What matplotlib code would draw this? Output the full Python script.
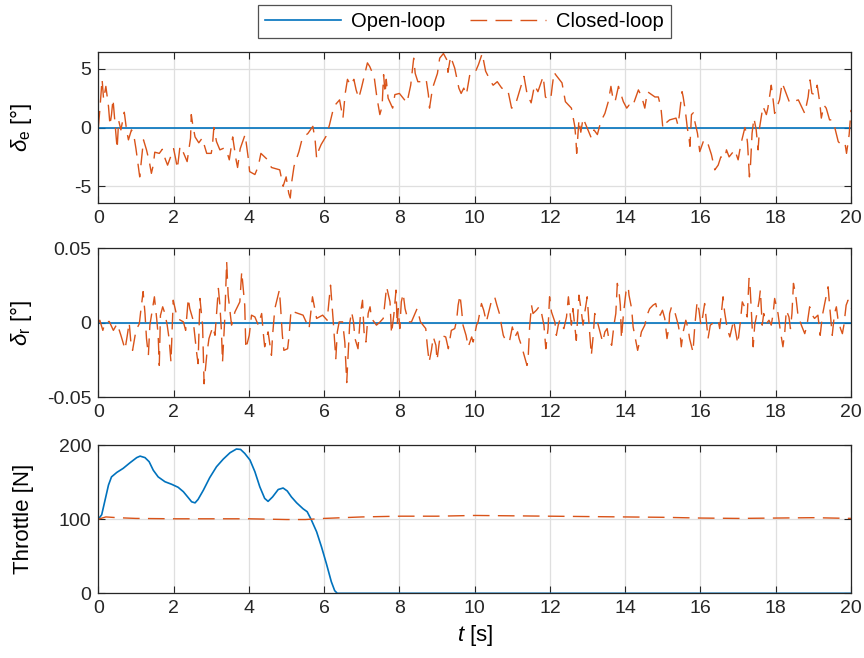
import numpy as np
import matplotlib.pyplot as plt

plt.rcParams['font.family'] = ['Liberation Sans', 'DejaVu Sans']
plt.rcParams['mathtext.fontset'] = 'custom'
plt.rcParams['mathtext.it'] = 'Liberation Sans:italic'
plt.rcParams['mathtext.rm'] = 'Liberation Sans'
plt.rcParams['axes.unicode_minus'] = False

BLUE = '#0072BD'
ORANGE = '#D95319'

# open-loop (zero deflections)
t_ol = [0, 20]
de_ol = [0, 0]
dr_ol = [0, 0]

# closed-loop elevator deflection [deg]
t_de = [0.0, 0.04, 0.1, 0.14, 0.2, 0.27, 0.31, 0.35, 0.39, 0.43, 0.46, 0.5, 0.54, 0.6, 0.69, 0.75, 0.8, 0.88, 0.94,
        1.0, 1.1, 1.15, 1.2, 1.28, 1.36, 1.41, 1.46, 1.5, 1.62, 1.7, 1.78, 1.84, 2.0, 2.06, 2.1, 2.17, 2.23, 2.36,
        2.45, 2.47, 2.51, 2.57, 2.67, 2.76, 2.88, 3.0, 3.03, 3.07, 3.14, 3.23, 3.34, 3.43, 3.48, 3.57, 3.62, 3.66,
        3.7, 3.77, 3.9, 3.95, 3.99, 4.02, 4.16, 4.25, 4.32, 4.5, 4.6, 4.82, 4.91, 4.99, 5.06, 5.1, 5.14, 5.2, 5.24,
        5.33, 5.42, 5.57, 5.7, 5.76, 5.8, 5.86, 5.92, 6.05, 6.14, 6.26, 6.41, 6.5, 6.56, 6.62, 6.7, 6.79, 6.85, 6.92,
        6.99, 7.15, 7.21, 7.33, 7.4, 7.48, 7.54, 7.58, 7.62, 7.65, 7.7, 7.82, 7.88, 8.0, 8.2, 8.3, 8.38, 8.42, 8.49,
        8.62, 8.71, 8.77, 8.8, 8.88, 9.01, 9.07, 9.17, 9.27, 9.29, 9.36, 9.47, 9.58, 9.64, 9.71, 9.78, 9.87, 10.0,
        10.1, 10.2, 10.29, 10.43, 10.49, 10.6, 10.72, 10.88, 10.98, 11.07, 11.2, 11.31, 11.39, 11.5, 11.59, 11.68,
        11.82, 11.88, 11.95, 12.02, 12.06, 12.11, 12.15, 12.32, 12.41, 12.57, 12.66, 12.69, 12.71, 12.77, 12.82,
        12.88, 12.97, 13.1, 13.17, 13.26, 13.35, 13.46, 13.55, 13.62, 13.68, 13.73, 13.82, 13.95, 14.04, 14.1,
        14.19, 14.35, 14.44, 14.52, 14.59, 14.79, 14.88, 14.95, 15.0, 15.05, 15.18, 15.35, 15.4, 15.44, 15.48,
        15.51, 15.54, 15.6, 15.65, 15.69, 15.72, 15.76, 15.81, 15.85, 15.92, 15.98, 16.09, 16.18, 16.29, 16.38,
        16.47, 16.54, 16.65, 16.69, 16.76, 16.91, 17.0, 17.04, 17.1, 17.18, 17.22, 17.25, 17.3, 17.33, 17.37,
        17.42, 17.48, 17.53, 17.57, 17.66, 17.75, 17.79, 17.88, 17.93, 17.97, 18.1, 18.17, 18.24, 18.37, 18.5,
        18.6, 18.77, 18.86, 18.91, 18.96, 19.04, 19.1, 19.17, 19.21, 19.28, 19.34, 19.43, 19.48, 19.56, 19.66,
        19.75, 19.84, 19.88, 19.95, 20.0]
de_cl = [0.0, 1.5, 4.1, 2.4, 3.5, 1.8, 0.2, 1.1, 2.4, 0.9, -0.2, -1.8, 0.6, -0.2, 1.3, -0.2, -1.05, -0.2, -0.6,
         -1.8, -4.2, -2.6, -1.05, -1.9, -3.0, -3.9, -3.2, -2.1, -2.2, -1.85, -2.7, -3.2, -1.8, -2.75, -3.5, -1.6,
         -1.9, -2.9, -0.9, 1.1, 0.2, -0.8, -1.3, -0.9, -2.2, -2.2, -1.6, 0.0, -1.2, -1.9, -1.75, -2.2, -2.75, -0.8,
         -1.9, -2.75, -3.4, -1.8, -0.6, -1.8, -2.75, -3.75, -4.0, -3.3, -2.2, -2.75, -3.4, -3.6, -5.0, -4.2, -5.6,
         -6.0, -4.6, -3.3, -2.9, -2.05, -0.9, -0.5, 0.1, -1.05, -2.6, -1.9, -1.45, -0.75, 0.2, 1.8, 2.35, 0.8, 2.9,
         4.1, 3.6, 4.1, 3.2, 2.5, 3.35, 5.5, 5.2, 4.3, 2.6, 1.1, 1.8, 4.5, 2.9, 4.1, 2.5, 1.65, 2.8, 2.9, 2.1, 3.6,
         5.9, 4.6, 3.9, 3.9, 4.1, 2.8, 1.65, 3.35, 4.6, 5.9, 6.3, 5.7, 4.7, 6.05, 5.05, 3.35, 2.9, 3.35, 2.8, 4.5,
         4.6, 5.35, 6.3, 4.8, 3.9, 3.6, 3.9, 3.35, 3.2, 1.65, 1.8, 3.2, 4.35, 2.9, 2.1, 3.6, 3.05, 4.35, 2.6, 2.4,
         2.4, 3.5, 4.7, 4.5, 3.8, 2.2, 1.65, 0.1, -1.0, -2.2, 0.65, -0.4, 0.8, 0.1, -0.9, -0.2, -0.6, 0.5, 1.2, 2.2,
         3.5, 2.35, 2.2, 3.5, 2.2, 1.65, 1.9, 1.75, 3.2, 2.6, 1.65, 3.05, 2.6, 2.6, 1.65, -0.05, 0.3, 0.65, 0.8, 0.2,
         1.1, 2.2, 3.05, 2.6, 1.35, -0.05, -0.75, -1.6, 1.1, 1.25, 0.5, -0.5, -2.05, -1.05, -1.2, -2.3, -3.6, -3.2,
         -2.5, -2.6, -1.9, -2.5, -1.9, -2.75, -2.0, -1.05, 0.0, -0.5, -1.35, -4.2, -3.1, -0.5, 0.8, -0.2, -1.9, 0.0,
         1.8, 1.1, 1.65, 3.6, 2.35, 1.2, 2.35, 3.8, 3.2, 2.1, 2.25, 2.35, 1.2, 2.6, 4.05, 2.9, 2.8, 3.6, 2.1, 0.8,
         1.9, 1.65, 0.65, 0.65, 0.1, -1.2, -1.5, -1.35, -2.2, -0.6, 1.5]

# closed-loop rudder deflection [deg]
t_dr = [0.0, 0.04, 0.12, 0.18, 0.29, 0.4, 0.5, 0.6, 0.71, 0.77, 0.82, 0.86, 0.91, 1.0, 1.09, 1.12, 1.19, 1.24,
        1.28, 1.33, 1.37, 1.42, 1.49, 1.55, 1.59, 1.62, 1.65, 1.71, 1.77, 1.83, 1.88, 1.93, 1.99, 2.1, 2.26, 2.32,
        2.39, 2.43, 2.52, 2.61, 2.65, 2.7, 2.77, 2.81, 2.88, 2.94, 3.04, 3.1, 3.19, 3.23, 3.27, 3.3, 3.36, 3.41,
        3.45, 3.54, 3.63, 3.76, 3.81, 3.85, 3.89, 3.92, 4.01, 4.07, 4.16, 4.25, 4.34, 4.38, 4.42, 4.51, 4.6, 4.63,
        4.69, 4.81, 4.84, 4.89, 4.93, 5.03, 5.07, 5.12, 5.19, 5.44, 5.6, 5.69, 5.8, 5.96, 6.08, 6.17, 6.24, 6.31,
        6.35, 6.4, 6.49, 6.55, 6.6, 6.64, 6.68, 6.73, 6.78, 6.82, 6.9, 6.97, 7.02, 7.06, 7.11, 7.17, 7.22, 7.26,
        7.39, 7.48, 7.57, 7.66, 7.75, 7.79, 7.85, 7.91, 7.94, 7.97, 8.01, 8.05, 8.1, 8.15, 8.24, 8.32, 8.47, 8.56,
        8.7, 8.74, 8.79, 8.85, 8.9, 8.97, 9.0, 9.06, 9.1, 9.23, 9.3, 9.38, 9.47, 9.52, 9.56, 9.61, 9.65, 9.69,
        9.77, 9.83, 9.92, 9.96, 10.05, 10.09, 10.18, 10.24, 10.31, 10.45, 10.53, 10.59, 10.67, 10.71, 10.76,
        10.84, 10.93, 11.0, 11.07, 11.14, 11.18, 11.24, 11.33, 11.39, 11.42, 11.46, 11.51, 11.55, 11.64, 11.71,
        11.77, 11.84, 11.89, 11.95, 11.99, 12.04, 12.13, 12.17, 12.22, 12.26, 12.3, 12.37, 12.44, 12.49, 12.53,
        12.57, 12.61, 12.7, 12.77, 12.81, 12.88, 12.92, 12.99, 13.04, 13.1, 13.15, 13.19, 13.25, 13.33, 13.4,
        13.46, 13.52, 13.57, 13.64, 13.7, 13.75, 13.79, 13.84, 13.87, 13.9, 13.95, 14.02, 14.08, 14.1, 14.17,
        14.21, 14.28, 14.33, 14.37, 14.43, 14.52, 14.58, 14.65, 14.74, 14.81, 14.87, 14.93, 14.99, 15.05, 15.11,
        15.16, 15.18, 15.23, 15.29, 15.34, 15.41, 15.47, 15.49, 15.54, 15.61, 15.67, 15.71, 15.8, 15.85, 15.91,
        15.96, 16.01, 16.05, 16.11, 16.15, 16.2, 16.26, 16.38, 16.47, 16.51, 16.6, 16.64, 16.71, 16.78, 16.88,
        16.95, 16.99, 17.06, 17.11, 17.17, 17.24, 17.29, 17.32, 17.36, 17.4, 17.44, 17.5, 17.56, 17.59, 17.64,
        17.68, 17.75, 17.82, 17.88, 17.93, 17.97, 18.06, 18.12, 18.19, 18.24, 18.28, 18.35, 18.39, 18.43, 18.47,
        18.53, 18.59, 18.68, 18.77, 18.83, 18.9, 18.97, 19.03, 19.12, 19.18, 19.24, 19.3, 19.39, 19.43, 19.5,
        19.56, 19.61, 19.65, 19.72, 19.77, 19.81, 19.87, 19.92, 20.0]
dr_cl = [0.0, 0.0018, -0.005, 0.0005, 0.001, -0.005, -0.0005, -0.0083, -0.0177, -0.0083, 0.0002, -0.0117,
         -0.0184, -0.005, -0.0005, 0.0063, 0.021, 0.0063, -0.0105, -0.0217, -0.0015, 0.0063, 0.0175, 0.003,
         -0.0083, -0.0285, 0.005, 0.0108, 0.0063, -0.0015, -0.0105, -0.0262, 0.0152, 0.003, 0.0007, -0.005,
         0.0164, 0.0096, 0.0018, -0.0195, -0.0273, 0.0164, -0.0015, -0.0408, -0.0217, -0.0105, -0.0027, -0.0083,
         0.0231, 0.0119, -0.005, -0.0262, 0.003, 0.041, 0.0186, -0.0015, 0.0074, 0.0141, 0.0343, 0.023, 0.0119,
         -0.0173, -0.0083, 0.0052, 0.004, -0.0015, 0.0063, -0.006, -0.016, -0.006, -0.0217, -0.0083, 0.0096,
         0.022, 0.0119, -0.0083, -0.0184, -0.0173, -0.0083, 0.0085, 0.0074, 0.0052, -0.0038, 0.0175, 0.003,
         0.0052, 0.0018, 0.0253, 0.0018, -0.024, -0.006, 0.0007, 0.0007, -0.013, -0.04, -0.02, 0.0, 0.0074,
         0.0007, -0.0105, -0.0173, 0.0074, 0.0152, -0.006, -0.0128, 0.0063, 0.0108, 0.003, -0.0015, 0.0005,
         0.003, 0.0242, 0.0141, -0.0072, 0.005, 0.022, -0.0015, 0.0096, -0.0038, 0.0141, 0.0197, 0.0096, 0.0007,
         0.0007, 0.0096, 0.0007, -0.0038, -0.015, -0.0262, -0.0184, -0.0094, -0.015, -0.025, -0.0128, -0.0083,
         -0.0094, -0.0173, -0.005, -0.0038, 0.0018, 0.0119, 0.0186, 0.0096, -0.0015, -0.0083, -0.016, -0.0094,
         -0.0128, -0.0015, 0.0007, 0.013, 0.0085, 0.0007, 0.0152, 0.0175, 0.0119, 0.0052, -0.0015, -0.0083,
         -0.0128, -0.0117, -0.0027, -0.0094, -0.006, -0.0105, -0.015, -0.023, -0.0285, -0.024, -0.0027, 0.0119,
         0.0063, 0.0085, 0.0108, 0.0074, -0.0015, -0.0173, -0.0038, 0.0175, 0.0074, 0.0007, -0.0083, -0.0015,
         0.0018, -0.0015, -0.0038, 0.004, 0.0175, 0.0074, -0.0015, 0.0096, -0.0117, 0.0186, 0.0119, -0.0015,
         0.0063, 0.0175, -0.0015, -0.0217, -0.0083, 0.0063, 0.0018, -0.006, -0.0128, -0.006, -0.0038, -0.0117,
         -0.015, -0.0015, 0.0063, 0.0265, 0.0197, 0.0119, -0.0105, 0.0052, 0.0209, 0.0242, 0.0186, 0.0096,
         -0.0027, -0.0117, -0.0184, -0.0139, -0.006, -0.0015, 0.0052, 0.0096, 0.0119, 0.013, 0.0063, 0.0052,
         0.0085, 0.003, -0.0105, -0.0027, 0.0063, 0.0108, 0.0096, 0.0052, -0.0015, -0.0105, -0.016, -0.006,
         0.0018, -0.0038, -0.0105, -0.0195, -0.0015, 0.0141, 0.0085, -0.0015, 0.003, 0.013, 0.003, -0.0105,
         -0.0015, 0.0007, 0.0018, -0.0038, 0.0175, 0.0074, -0.0038, -0.0094, 0.0018, -0.0083, -0.0139, 0.0007,
         0.0141, 0.0108, 0.004, 0.0298, 0.023, 0.003, -0.016, -0.0015, 0.0063, 0.0152, 0.022, -0.0015, 0.0063,
         -0.0005, 0.0018, -0.0015, 0.0063, 0.0164, 0.0063, -0.005, -0.016, -0.006, 0.0085, 0.004, -0.0038,
         0.0063, 0.0265, 0.0186, 0.0052, -0.0015, -0.0072, -0.0015, 0.0108, 0.0052, 0.003, 0.0052, -0.0083,
         0.0052, 0.013, 0.0242, 0.0119, -0.0083, 0.0063, 0.0108, 0.003, -0.0038, -0.0072, -0.0015, 0.0119,
         0.0152, 0.0096]

# throttle [N]
t_thr_ol = [0.0, 0.09, 0.18, 0.27, 0.35, 0.49, 0.66, 0.84, 1.02, 1.11, 1.24, 1.35, 1.46, 1.59, 1.77, 1.95, 2.12,
            2.26, 2.39, 2.48, 2.57, 2.65, 2.79, 2.96, 3.14, 3.32, 3.5, 3.67, 3.78, 3.89, 4.03, 4.16, 4.29, 4.42,
            4.51, 4.63, 4.78, 4.91, 5.02, 5.13, 5.27, 5.44, 5.55, 5.66, 5.8, 5.93, 6.06, 6.19, 6.28, 6.35, 20.0]
thr_ol = [100, 106, 126, 146, 157, 163, 168.5, 176, 183, 185, 183, 177.5, 166, 157, 150.5, 147, 143, 137, 129,
          123.4, 122, 126.6, 139, 156, 170.7, 181, 189.6, 194.6, 194, 188.7, 179.7, 164, 143.7, 128, 124, 130, 140,
          142, 138, 130, 122, 114, 110, 99, 83, 62.6, 40, 15.8, 3.6, 0, 0]
t_thr_cl = [0, 0.2, 0.5, 1, 2, 3, 4, 5, 5.5, 6, 7, 8, 9, 10, 11, 12, 13, 14, 15, 16, 17, 18, 19, 20]
thr_cl = [100, 103, 102, 101, 100.5, 100.5, 100.5, 99.5, 99.5, 101, 103, 104, 104, 105, 104.5, 104, 103.5, 103,
          102.5, 101.5, 101, 101.5, 102, 101]

fig = plt.figure(figsize=(8.64, 6.58), dpi=100)
left, width = 0.1138, 0.8712
ax1 = fig.add_axes([left, 0.691, width, 0.2304])
ax2 = fig.add_axes([left, 0.3959, width, 0.2267])
ax3 = fig.add_axes([left, 0.0983, width, 0.2254])

dash = (0, (12, 6))
for ax in (ax1, ax2, ax3):
    ax.set_xlim(0, 20)
    ax.set_xticks(np.arange(0, 21, 2))
    ax.grid(True, color='#dfdfdf', lw=0.9)
    ax.set_axisbelow(True)
    ax.tick_params(direction='in', top=True, right=True, length=5, width=0.8,
                   labelsize=14, colors='#262626', pad=5)
    for s in ax.spines.values():
        s.set_color('#262626')
        s.set_linewidth(0.9)

l1, = ax1.plot(t_ol, de_ol, color=BLUE, lw=1.2, label='Open-loop')
l2, = ax1.plot(t_de, de_cl, color=ORANGE, lw=1.0, linestyle=dash, label='Closed-loop')
ax1.set_ylim(-6.45, 6.45)
ax1.set_yticks([-5, 0, 5])
ax1.set_ylabel(r'$\delta_{\rm e}$ [°]', fontsize=16)

ax2.plot(t_ol, dr_ol, color=BLUE, lw=1.2)
ax2.plot(t_dr, dr_cl, color=ORANGE, lw=1.0, linestyle=dash)
ax2.set_ylim(-0.05, 0.05)
ax2.set_yticks([-0.05, 0, 0.05])
ax2.set_yticklabels(['-0.05', '0', '0.05'])
ax2.set_ylabel(r'$\delta_{\rm r}$ [°]', fontsize=16)

ax3.plot(t_thr_ol, thr_ol, color=BLUE, lw=1.2)
ax3.plot(t_thr_cl, thr_cl, color=ORANGE, lw=1.0, linestyle=dash)
ax3.set_ylim(0, 200)
ax3.set_yticks([0, 100, 200])
ax3.set_ylabel('Throttle [N]', fontsize=16)
ax3.set_xlabel(r'$t$ [s]', fontsize=16)

for ax in (ax1, ax2, ax3):
    ax.yaxis.set_label_coords(-0.085, 0.5)

leg = fig.legend(handles=[l1, l2], loc='center', bbox_to_anchor=(0.5375, 0.967), ncol=2,
                 fontsize=14.5, frameon=True, fancybox=False, edgecolor='#262626',
                 handlelength=3.8, columnspacing=1.2, borderpad=0.35, handletextpad=0.5)
leg.get_frame().set_linewidth(0.9)

fig.savefig('out.png', dpi=100)
